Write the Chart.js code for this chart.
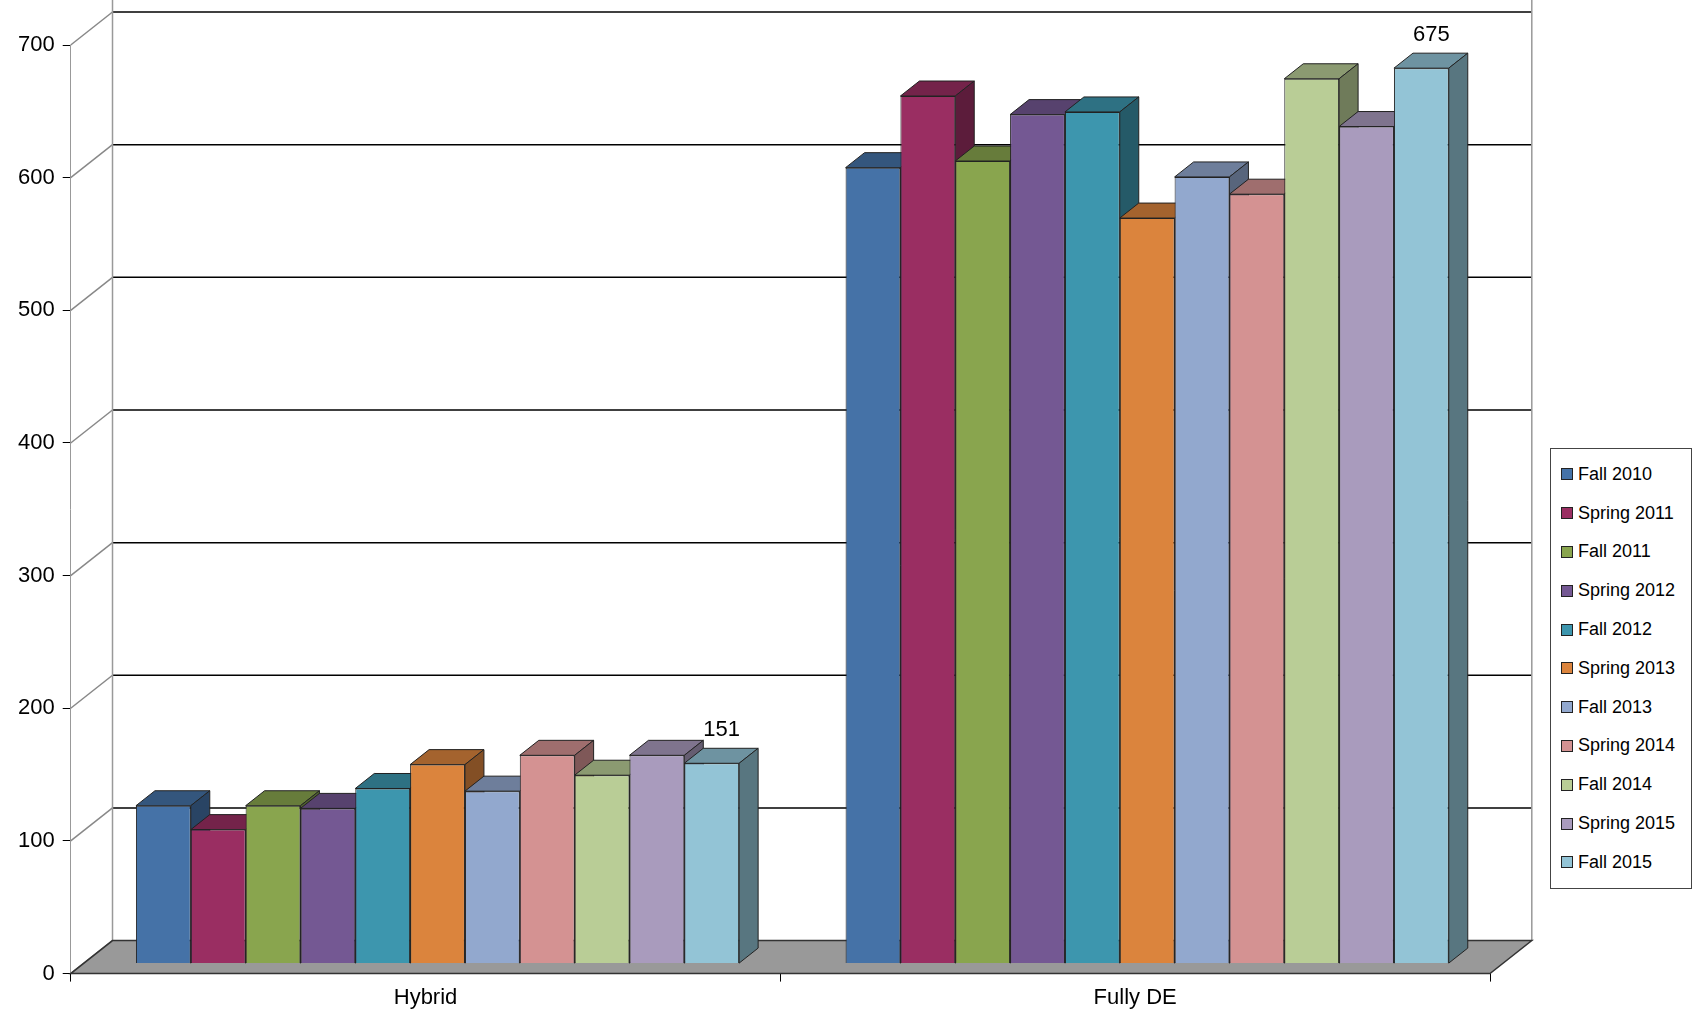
<!DOCTYPE html>
<html>
<head>
<meta charset="utf-8">
<script src="https://cdn.jsdelivr.net/npm/chart.js@4.4.1/dist/chart.umd.min.js"></script>
<style>
  body { margin: 0; background: #fff; font-family: "Liberation Sans", Arial, sans-serif; }
  #wrap { position: absolute; left: 0; top: 0; width: 1540px; height: 1020px; }
  #legend { position: absolute; left: 1550px; top: 448px; width: 140px; border: 1px solid #444; background: #fff; padding: 6px 0 6px 0; }
  .item { display: flex; align-items: center; height: 38.8px; font-size: 18px; color: #000; padding-left: 10px; }
  .sw { width: 10px; height: 10px; border: 1px solid #222; margin-right: 5px; }
</style>
</head>
<body>
<div id="wrap"><canvas id="chart"></canvas></div>
<div id="legend"></div>
<script>
const categories = ["Hybrid", "Fully DE"];
const seriesNames = ["Fall 2010", "Spring 2011", "Fall 2011", "Spring 2012", "Fall 2012", "Spring 2013",
  "Fall 2013", "Spring 2014", "Fall 2014", "Spring 2015", "Fall 2015"];
const hybridValues = [119, 101, 119, 117, 132, 150, 130, 157, 142, 157, 151];
const fullyDeValues = [600, 654, 605, 640, 642, 562, 593, 580, 667, 631, 675];
const colors = ["#4572A7", "#9A2E62", "#89A54E", "#745893", "#3D96AE", "#DB843D",
  "#92A8CE", "#D49292", "#B9CD96", "#A99BBD", "#93C4D6"];
const yTicks = [0, 100, 200, 300, 400, 500, 600, 700];

const DX = 19, DY = -15;
const OX = 12, OY = -10; // bars sit a little back from the front plane

function shade(hex, f) {
  const n = parseInt(hex.slice(1), 16);
  const r = Math.round(((n >> 16) & 255) * f), g = Math.round(((n >> 8) & 255) * f), b = Math.round((n & 255) * f);
  return `rgb(${r},${g},${b})`;
}

const threeD = {
  id: "threeD",
  beforeDatasetsDraw(chart) {
    const ctx = chart.ctx, a = chart.chartArea, y = chart.scales.y;
    ctx.save();
    ctx.strokeStyle = "#000";
    ctx.lineWidth = 1.5;
    yTicks.forEach((t) => {
      const py = y.getPixelForValue(t) + DY * 2.2;
      if (t > 0) {
        ctx.beginPath(); ctx.moveTo(a.left + DX * 2.2, py); ctx.lineTo(a.right + DX * 2.2, py); ctx.stroke();
      }
      ctx.strokeStyle = "#888";
      ctx.beginPath(); ctx.moveTo(a.left, y.getPixelForValue(t)); ctx.lineTo(a.left + DX * 2.2, py); ctx.stroke();
      ctx.strokeStyle = "#000";
    });
    ctx.strokeStyle = "#999";
    [a.left, a.right].forEach((x) => {
      ctx.beginPath();
      ctx.moveTo(x + DX * 2.2, y.getPixelForValue(700) + DY * 2.2 - 20);
      ctx.lineTo(x + DX * 2.2, y.getPixelForValue(0) + DY * 2.2);
      ctx.stroke();
    });
    const y0 = y.getPixelForValue(0);
    ctx.fillStyle = "#999";
    ctx.strokeStyle = "#333";
    ctx.beginPath();
    ctx.moveTo(a.left, y0); ctx.lineTo(a.right, y0);
    ctx.lineTo(a.right + DX * 2.2, y0 + DY * 2.2); ctx.lineTo(a.left + DX * 2.2, y0 + DY * 2.2);
    ctx.closePath(); ctx.fill(); ctx.stroke();

    ctx.translate(OX, OY);
    ctx.lineWidth = 1;
    ctx.strokeStyle = "#222";
    chart.data.datasets.forEach((ds, i) => {
      chart.getDatasetMeta(i).data.forEach((bar) => {
        const l = bar.x - bar.width / 2, r = bar.x + bar.width / 2, t = bar.y, b = bar.base;
        ctx.fillStyle = shade(colors[i], 0.75);
        ctx.beginPath();
        ctx.moveTo(l, t); ctx.lineTo(l + DX, t + DY); ctx.lineTo(r + DX, t + DY); ctx.lineTo(r, t);
        ctx.closePath(); ctx.fill(); ctx.stroke();
        ctx.fillStyle = shade(colors[i], 0.6);
        ctx.beginPath();
        ctx.moveTo(r, t); ctx.lineTo(r + DX, t + DY); ctx.lineTo(r + DX, b + DY); ctx.lineTo(r, b);
        ctx.closePath(); ctx.fill(); ctx.stroke();
      });
    });
    ctx.restore();
  },
  beforeDatasetDraw(chart) {
    chart.ctx.save();
    chart.ctx.translate(OX, OY);
  },
  afterDatasetDraw(chart) {
    chart.ctx.restore();
  },
  afterDatasetsDraw(chart) {
    const ctx = chart.ctx;
    ctx.save();
    const last = chart.data.datasets.length - 1;
    ctx.fillStyle = "#000";
    ctx.font = "22px 'Liberation Sans', Arial";
    ctx.textAlign = "center";
    chart.getDatasetMeta(last).data.forEach((bar, j) => {
      ctx.fillText(chart.data.datasets[last].data[j], bar.x + OX + 10, bar.y + OY + DY - 12);
    });
    ctx.restore();
  }
};

const datasets = seriesNames.map((name, i) => ({
  label: name,
  data: [hybridValues[i], fullyDeValues[i]],
  backgroundColor: colors[i],
  borderColor: "#222",
  borderWidth: 1,
  categoryPercentage: 0.85,
  barPercentage: 1.0
}));

new Chart(document.getElementById("chart"), {
  type: "bar",
  data: { labels: categories, datasets: datasets },
  plugins: [threeD],
  options: {
    responsive: true,
    maintainAspectRatio: false,
    animation: false,
    layout: { padding: { top: 45, right: 50, left: 10, bottom: 6 } },
    plugins: { legend: { display: false }, tooltip: { enabled: false } },
    scales: {
      x: {
        grid: { display: true, drawOnChartArea: false, color: "#000", tickLength: 8, offset: true },
        border: { color: "#000" },
        ticks: { color: "#000", font: { size: 22, family: "'Liberation Sans', Arial" } }
      },
      y: {
        min: 0, max: 700,
        afterBuildTicks: (axis) => { axis.ticks = yTicks.map((v) => ({ value: v })); },
        grid: { drawOnChartArea: false, color: "#000", tickLength: 8 },
        border: { color: "#999" },
        ticks: { color: "#000", font: { size: 22, family: "'Liberation Sans', Arial" }, padding: 8 }
      }
    }
  }
});
document.getElementById("chart").parentNode.style.height = "1020px";

const legend = document.getElementById("legend");
seriesNames.forEach((n, i) => {
  const d = document.createElement("div");
  d.className = "item";
  d.innerHTML = `<span class="sw" style="background:${colors[i]}"></span>${n}`;
  legend.appendChild(d);
});
</script>
</body>
</html>
